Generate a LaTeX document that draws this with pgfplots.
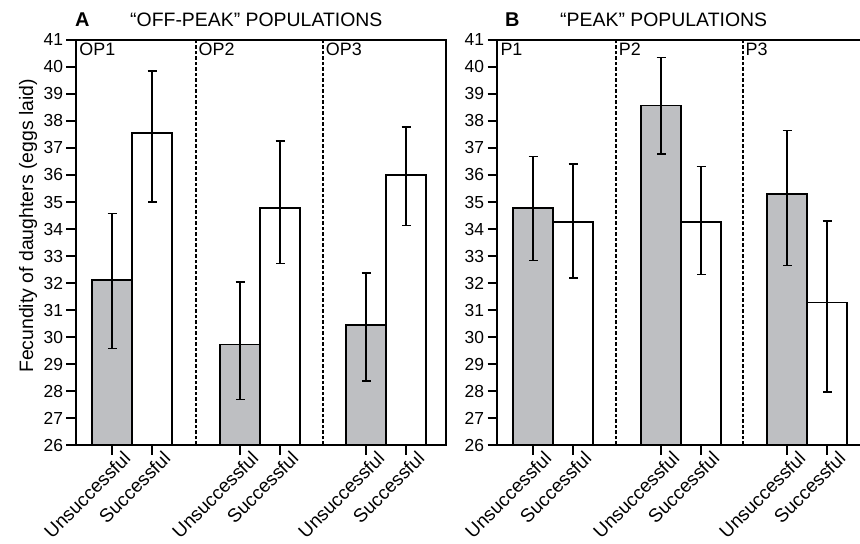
\documentclass[border=0pt]{standalone}
\usepackage{fontspec}
\setmainfont{Liberation Sans}
\usepackage{pgfplots}
\usepackage{pgfplotstable}
\pgfplotsset{compat=1.18}
\definecolor{barfill}{RGB}{190,191,194}

% x  mean  err+  err-
\pgfplotstableread{
x y ep em
0.9 32.10 2.47 2.53
4.1 29.72 2.32 2.03
7.25 30.45 1.92 2.08
}\offU
\pgfplotstableread{
x y ep em
1.9 37.55 2.30 2.55
5.1 34.77 2.49 2.05
8.25 36.00 1.78 1.88
}\offS
\pgfplotstableread{
x y ep em
0.9 34.77 1.92 1.94
4.1 38.57 1.78 1.79
7.25 35.30 2.35 2.65
}\peakU
\pgfplotstableread{
x y ep em
1.9 34.25 2.16 2.06
5.1 34.27 2.05 1.95
8.25 31.28 3.02 3.31
}\peakS

\pgfplotsset{
  panel/.style={
    scale only axis, height=405bp,
    ymin=26, ymax=41, ytick={26,...,41}, xmin=0,
    ybar, bar width=1, bar shift=0pt,
    xtick={0.9,1.9,4.1,5.1,7.25,8.25},
    xticklabels={Unsuccessful,Successful,Unsuccessful,Successful,Unsuccessful,Successful},
    x tick label style={xshift=10bp, yshift=6bp, rotate=45, anchor=north east, inner sep=1bp, font=\fontsize{19}{22}\selectfont},
    y tick label style={font=\fontsize{17.5}{20}\selectfont},
    tick align=outside, major tick length=9.5bp,
    xtick pos=bottom, ytick pos=left,
    axis line style={line width=1.4bp},
    tick style={line width=1.3bp, black},
    /pgf/number format/assume math mode=true,
    every axis plot/.append style={line width=1.6bp, draw=black},
    error bars/y dir=both, error bars/y explicit,
    error bars/error bar style={line width=1.4bp, black},
    error bars/error mark options={rotate=90, mark size=4.5bp, line width=1.4bp, black},
  },
}
\tikzset{
  sep/.style={dash pattern=on 3.5bp off 2bp, line width=1.5bp},
  grp/.style={anchor=north west, inner sep=2.5bp, font=\fontsize{18}{21}\selectfont},
}

\begin{document}
\begin{tikzpicture}
\useasboundingbox (0bp,0bp) rectangle (860bp,544bp);

\begin{axis}[panel, at={(76bp,99bp)}, anchor=south west, width=370bp, xmax=9.25]
\addplot[fill=barfill] table[x=x, y=y, y error plus=ep, y error minus=em] {\offU};
\addplot[fill=white] table[x=x, y=y, y error plus=ep, y error minus=em] {\offS};
\draw[sep] (axis cs:3.0,26) -- (axis cs:3.0,41);
\draw[sep] (axis cs:6.18,26) -- (axis cs:6.18,41);
\node[grp] at (axis cs:0.02,41) {OP1};
\node[grp] at (axis cs:3.0,41) {OP2};
\node[grp] at (axis cs:6.18,41) {OP3};
\end{axis}

\begin{axis}[panel, at={(497bp,99bp)}, anchor=south west, width=366bp, xmax=9.15]
\addplot[fill=barfill] table[x=x, y=y, y error plus=ep, y error minus=em] {\peakU};
\addplot[fill=white] table[x=x, y=y, y error plus=ep, y error minus=em] {\peakS};
\draw[sep] (axis cs:2.98,26) -- (axis cs:2.98,41);
\draw[sep] (axis cs:6.15,26) -- (axis cs:6.15,41);
\node[grp] at (axis cs:0.02,41) {P1};
\node[grp] at (axis cs:2.98,41) {P2};
\node[grp] at (axis cs:6.15,41) {P3};
\end{axis}

\node[rotate=90, anchor=base, inner sep=0pt, font=\fontsize{19.5}{22}\selectfont] at (33bp,318bp) {Fecundity of daughters (eggs laid)};
\node[anchor=base west, inner sep=0pt, font=\fontsize{20}{24}\bfseries] at (75bp,517bp) {A};
\node[anchor=base west, inner sep=0pt, font=\fontsize{19.5}{23}\selectfont] at (130bp,517bp) {“OFF-PEAK” POPULATIONS};
\node[anchor=base west, inner sep=0pt, font=\fontsize{20}{24}\bfseries] at (505bp,517bp) {B};
\node[anchor=base west, inner sep=0pt, font=\fontsize{19.5}{23}\selectfont] at (560bp,517bp) {“PEAK” POPULATIONS};
\end{tikzpicture}
\end{document}
